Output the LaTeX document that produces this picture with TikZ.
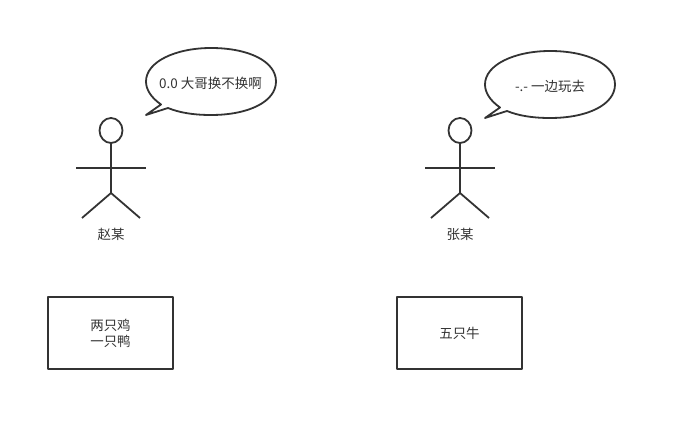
\documentclass[tikz,border=0pt]{standalone}
\usepackage{fontspec}
\setmainfont{Noto Sans CJK SC}
\definecolor{ink}{HTML}{333333}
\tikzset{
  x=0.75pt,y=-0.75pt,
  lw/.style={draw=ink,line width=1.8pt*0.75,line join=round},
  lbl/.style={text=ink,font=\fontsize{10.1pt}{11.25pt}\selectfont,align=center,inner sep=0pt},
}
\newcommand{\stick}[2]{%
  \draw[lw] (#1,#2) ellipse (11.5 and 12.5);
  \draw[lw] (#1,#2+12.5) -- (#1,#2+62.5);
  \draw[lw] (#1-35,#2+37.5) -- (#1+35,#2+37.5);
  \draw[lw] (#1-29,#2+87.5) -- (#1,#2+62.5) -- (#1+29,#2+87.5);
}
\newcommand{\bubble}[2]{%
  \draw[lw,fill=white] (#1-50,#2+23)
    .. controls (#1-60,#2+16) and (#1-65,#2+8) .. (#1-65,#2)
    .. controls (#1-65,#2-20) and (#1-35,#2-33.5) .. (#1,#2-33.5)
    .. controls (#1+38,#2-33.5) and (#1+65,#2-20) .. (#1+65,#2)
    .. controls (#1+65,#2+20) and (#1+38,#2+33.5) .. (#1,#2+33.5)
    .. controls (#1-18,#2+33.5) and (#1-32,#2+31) .. (#1-43,#2+26.5)
    -- (#1-65,#2+33.5) -- cycle;
}
\begin{document}
\begin{tikzpicture}
\useasboundingbox (0,0) rectangle (676,431);
\stick{111}{130.5}
\stick{460}{130.5}
\bubble{211}{81.5}
\bubble{550}{84.5}
\node[lbl] (t1) at (210.5,83.5) {0.0 大哥换不换啊};
\node[lbl] (t2) at (550,86.5) {-.- 一边玩去};
\node[lbl] (n1) at (111,234) {赵某};
\node[lbl] (n2) at (460,234) {张某};
\node[lw,lbl,minimum width=125pt*0.75,minimum height=72pt*0.75,rectangle,outer sep=0pt] (b1) at (110.5,333) {两只鸡\\[0.6pt]一只鸭};
\node[lw,lbl,minimum width=125pt*0.75,minimum height=72pt*0.75,rectangle,outer sep=0pt] (b2) at (459.5,333) {五只牛};
\end{tikzpicture}
\end{document}
